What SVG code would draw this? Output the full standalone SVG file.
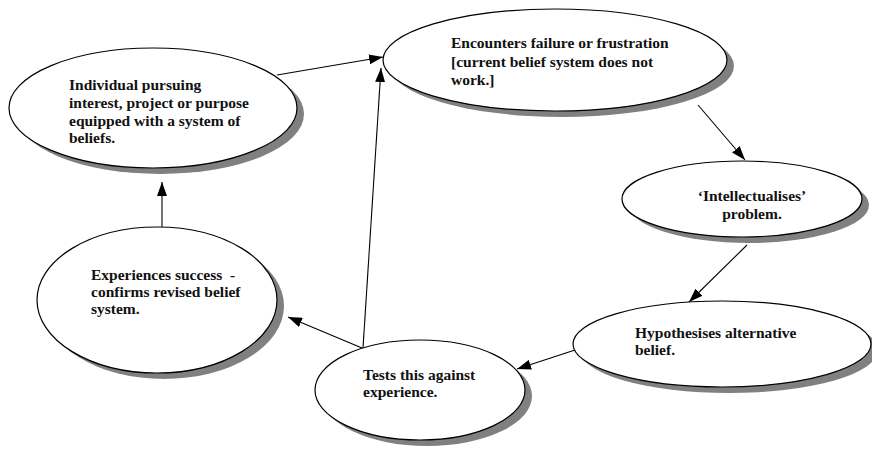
<svg xmlns="http://www.w3.org/2000/svg" width="872" height="450" viewBox="0 0 872 450">
<style>
.sh{fill:#808080;stroke:none}
.el{fill:#fff;stroke:#000;stroke-width:1.2}
.t{font-family:'Liberation Serif','Times New Roman',serif;font-weight:bold;font-size:15.5px;fill:#111}
.c{stroke:#000;stroke-width:1.1;fill:none;marker-end:url(#ah)}
</style>
<defs>
<marker id="ah" viewBox="0 0 14 10" refX="14" refY="5" markerWidth="14" markerHeight="10" markerUnits="userSpaceOnUse" orient="auto">
<path d="M0,0 L14,5 L0,10 Z" fill="#000"/>
</marker>
</defs>
<rect width="872" height="450" fill="#fff"/>
<g id="connectors">
<line class="c" x1="277" y1="75" x2="383" y2="57"/>
<line class="c" x1="698" y1="105" x2="745" y2="160"/>
<line class="c" x1="747" y1="245" x2="689" y2="302"/>
<line class="c" x1="575" y1="350" x2="517" y2="369"/>
<line class="c" x1="362" y1="348" x2="288" y2="317"/>
<line class="c" x1="363" y1="348" x2="381" y2="68"/>
<line class="c" x1="162" y1="227" x2="162" y2="182"/>
</g>
<g id="n1">
<ellipse class="sh" cx="160" cy="114" rx="144" ry="60"/>
<ellipse class="el" cx="153" cy="108" rx="144" ry="60"/>
<text class="t" font-family="Liberation Serif, serif" x="69" y="90">Individual pursuing</text>
<text class="t" font-family="Liberation Serif, serif" x="69" y="108">interest, project or purpose</text>
<text class="t" font-family="Liberation Serif, serif" x="69" y="126">equipped with a system of</text>
<text class="t" font-family="Liberation Serif, serif" x="69" y="143">beliefs.</text>
</g>
<g id="n2">
<ellipse class="sh" cx="562" cy="66" rx="172" ry="51"/>
<ellipse class="el" cx="555" cy="60" rx="172" ry="51"/>
<text class="t" font-family="Liberation Serif, serif" x="451" y="48">Encounters failure or frustration</text>
<text class="t" font-family="Liberation Serif, serif" x="451" y="67">[current belief system does not</text>
<text class="t" font-family="Liberation Serif, serif" x="451" y="85">work.]</text>
</g>
<g id="n3">
<ellipse class="sh" cx="749" cy="205" rx="120" ry="38"/>
<ellipse class="el" cx="742" cy="199" rx="120" ry="38"/>
<text class="t" font-family="Liberation Serif, serif" x="752" y="201" text-anchor="middle">‘Intellectualises’</text>
<text class="t" font-family="Liberation Serif, serif" x="752" y="219" text-anchor="middle">problem.</text>
</g>
<g id="n4">
<ellipse class="sh" cx="164" cy="306" rx="120" ry="73"/>
<ellipse class="el" cx="157" cy="300" rx="120" ry="73"/>
<text class="t" font-family="Liberation Serif, serif" x="91" y="280" xml:space="preserve">Experiences success  -</text>
<text class="t" font-family="Liberation Serif, serif" x="91" y="297">confirms revised belief</text>
<text class="t" font-family="Liberation Serif, serif" x="91" y="314">system.</text>
</g>
<g id="n5">
<ellipse class="sh" cx="427" cy="396" rx="105" ry="50"/>
<ellipse class="el" cx="420" cy="390" rx="105" ry="50"/>
<text class="t" font-family="Liberation Serif, serif" x="363" y="380">Tests this against</text>
<text class="t" font-family="Liberation Serif, serif" x="363" y="397">experience.</text>
</g>
<g id="n6">
<ellipse class="sh" cx="729" cy="350" rx="149" ry="43"/>
<ellipse class="el" cx="722" cy="344" rx="149" ry="43"/>
<text class="t" font-family="Liberation Serif, serif" x="635" y="338">Hypothesises alternative</text>
<text class="t" font-family="Liberation Serif, serif" x="635" y="355">belief.</text>
</g>
</svg>
